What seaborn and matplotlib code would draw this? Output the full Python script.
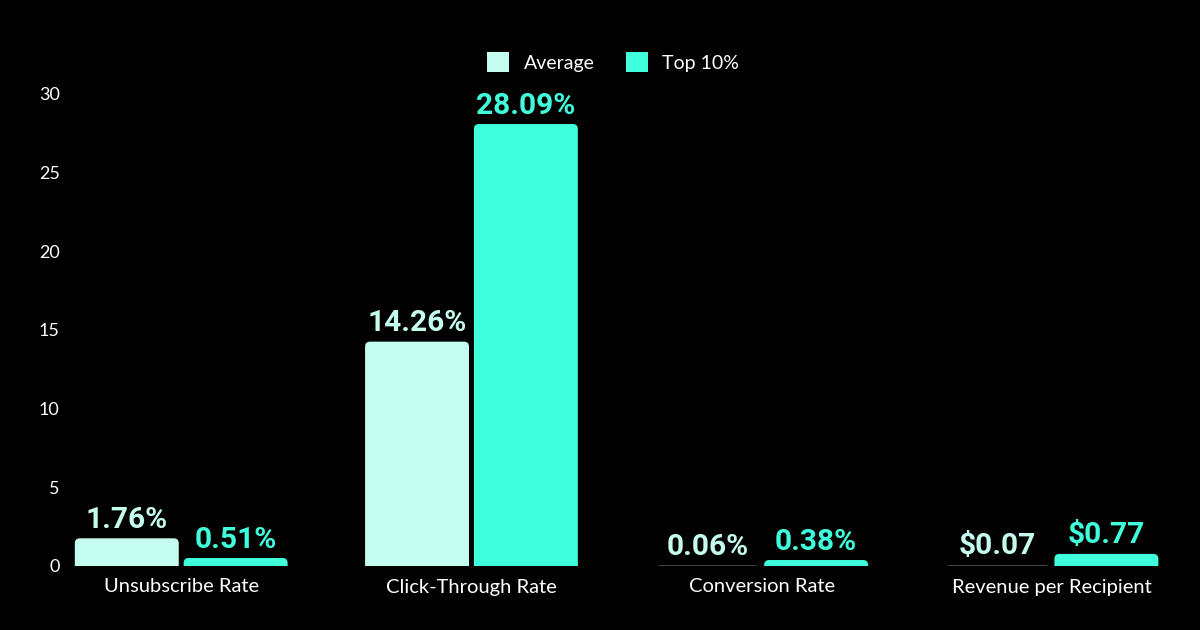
import matplotlib
matplotlib.use("Agg")
import matplotlib.pyplot as plt
from matplotlib.patches import FancyBboxPatch
import seaborn as sns
import pandas as pd

categories = ["Unsubscribe Rate", "Click-Through Rate", "Conversion Rate", "Revenue per Recipient"]
average = [1.76, 14.26, 0.06, 0.07]
top10 = [0.51, 28.09, 0.38, 0.77]
average_labels = ["1.76%", "14.26%", "0.06%", "$0.07"]
top10_labels = ["0.51%", "28.09%", "0.38%", "$0.77"]
series = ["Average", "Top 10%"]
yticks = [0, 5, 10, 15, 20, 25, 30]

colors = {"Average": "#C4FDEF", "Top 10%": "#40FFDC"}

df = pd.DataFrame({
    "category": categories * 2,
    "value": average + top10,
    "series": [series[0]] * 4 + [series[1]] * 4,
    "label": average_labels + top10_labels,
})

sns.set_theme(style="dark")
plt.rcParams["font.family"] = ["Lato", "DejaVu Sans"]

fig = plt.figure(figsize=(12, 6.3), dpi=100, facecolor="black")
ax = fig.add_axes([68 / 1200, 64 / 630, 1 - 68 / 1200, (566 - 94) / 630])
ax.set_facecolor("black")

sns.barplot(data=df, x="category", y="value", hue="series", hue_order=series,
            palette=colors, width=0.75, gap=0.045, saturation=1, ax=ax,
            edgecolor="none", linewidth=0, legend=True)

ax.set_ylim(0, 30)
ax.set_xlim(-0.39, 3.51)

# rounded tops
px_x = 1132 / 3.9
px_y = 472 / 30
r_px = 5
for cont, s in zip(ax.containers, series):
    labels = df[df["series"] == s]["label"].tolist()
    for bar, lab in zip(cont, labels):
        x, w, h = bar.get_x(), bar.get_width(), bar.get_height()
        col = bar.get_facecolor()
        bar.set_visible(False)
        ry = r_px / px_y
        rx = r_px / px_x
        if h < 0.2:
            col = "#3a4a47"
        p = FancyBboxPatch((x, -ry), w, h + ry,
                           boxstyle=f"round,pad=0,rounding_size={rx}",
                           mutation_aspect=ry / rx, facecolor=col,
                           edgecolor="none", linewidth=0, clip_on=True)
        ax.add_patch(p)
        ax.annotate(lab, (x + w / 2, h), xytext=(0, 7.5), textcoords="offset points",
                    ha="center", va="baseline", fontsize=21.5, fontweight="bold",
                    family=["Roboto", "DejaVu Sans"], color=colors[s],
                    annotation_clip=False)

ax.set_yticks(yticks)
ax.set_yticklabels([str(t) for t in yticks])
ax.tick_params(axis="y", length=0, pad=6, labelsize=13, labelcolor="white")
ax.tick_params(axis="x", length=0, pad=9, labelsize=14.5, labelcolor="white")
ax.set_xlabel("")
ax.set_ylabel("")
ax.grid(False)
for sp in ax.spines.values():
    sp.set_visible(False)

leg = ax.legend(loc="center", ncol=2, frameon=False, handlelength=1.15, handleheight=1.15,
                handletextpad=0.75, columnspacing=1.6, fontsize=14)
leg.set_bbox_to_anchor((613 / 1200, 1 - 62 / 630), transform=fig.transFigure)
for t in leg.get_texts():
    t.set_color("white")

fig.savefig("out.png", dpi=100, facecolor="black")
